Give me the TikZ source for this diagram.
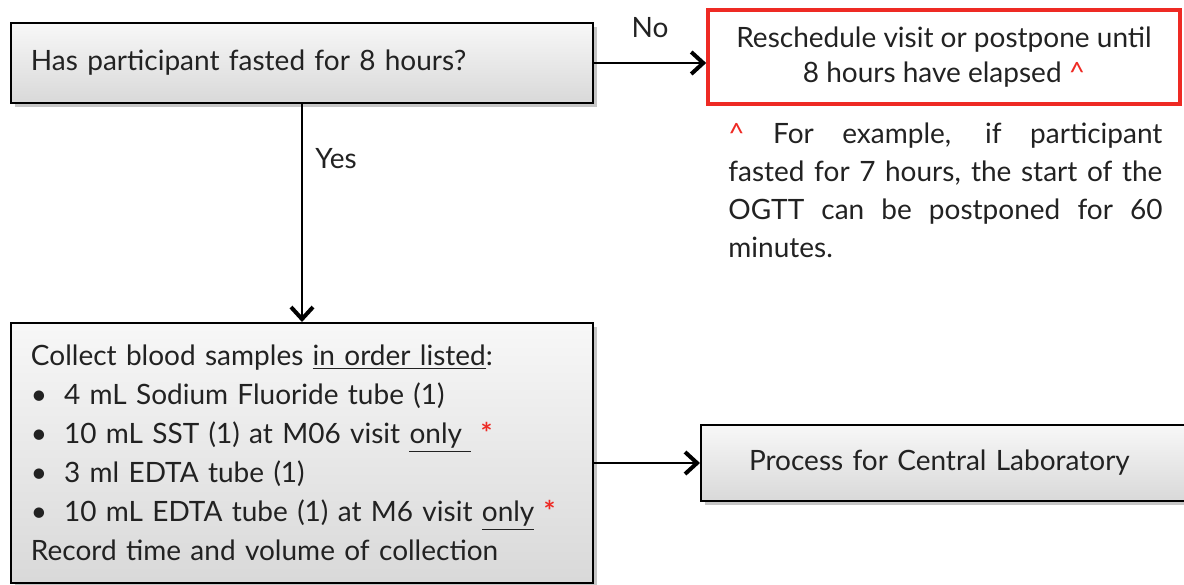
\documentclass[tikz,border=0pt]{standalone}
\usepackage{fontspec}
\setmainfont{Lato}
\usetikzlibrary{arrows.meta}
\usetikzlibrary{shadows}
\definecolor{alertred}{HTML}{EE2A24}
\definecolor{inktext}{HTML}{222222}

\begin{document}
\begin{tikzpicture}[x=0.5pt,y=-0.5pt,font=\fontsize{14}{19.5}\selectfont,text=inktext,
	greybox/.style={draw=black, line width=1pt, top color=gray!6, bottom color=gray!30, drop shadow={opacity=0.45, shadow xshift=2pt, shadow yshift=-2pt}},
	flow/.style={line width=0.8pt, -{Straight Barb[length=6pt,width=11pt,line width=2pt]}}]
	
	\useasboundingbox (0,0) rectangle (1184,584);
	
	\node[greybox, anchor=north west, minimum width=291pt, minimum height=40pt, text width=271pt, inner xsep=10pt, align=left] (fasted) at (10,22) {Has participant fasted for 8 hours?};
	
	\node[draw=alertred, line width=1.8pt, minimum width=236pt, minimum height=47pt, align=center, font=\fontsize{14}{17.5}\selectfont] (reschedule) at (944,57) {Reschedule visit or postpone until\\8 hours have elapsed \textcolor{alertred}{\textasciicircum}};
	
	\node[anchor=north west, text width=217pt, align=justify, inner sep=0pt, font=\fontsize{14}{19}\selectfont] (note) at (728,122) {\textcolor{alertred}{\textasciicircum} For example, if participant\linebreak fasted for 7 hours, the start of the\linebreak OGTT can be postponed for 60\linebreak minutes.};
	
	\node[greybox, anchor=north west, minimum width=291pt, minimum height=130pt, text width=271pt, inner xsep=10pt, align=left] (collect) at (10,322) {Collect blood samples \underline{in order listed}:\\
		\textbullet\hspace{0.6em}4 mL Sodium Fluoride tube (1)\\
		\textbullet\hspace{0.6em}10 mL SST (1) at M06 visit \underline{only\ }\ \textcolor{alertred}{\textbf{*}}\\
		\textbullet\hspace{0.6em}3 ml EDTA tube (1)\\
		\textbullet\hspace{0.6em}10 mL EDTA tube (1) at M6 visit \underline{only} \textcolor{alertred}{\textbf{*}}\\
		Record time and volume of collection};
	
	\node[greybox, anchor=west, minimum width=247pt, minimum height=38pt, text width=199pt, inner xsep=24pt, align=left] (process) at (700,463) {Process for Central Laboratory};
	
	\draw[flow] (fasted.south) -- (collect.north) node[pos=0.25, right=3pt] {Yes};
	\draw[flow] (fasted.east) -- (fasted.east -| reschedule.west) node[midway, above=9pt] {No};
	\draw[flow] (process.west -| collect.east) -- (process.west);
\end{tikzpicture}
\end{document}
